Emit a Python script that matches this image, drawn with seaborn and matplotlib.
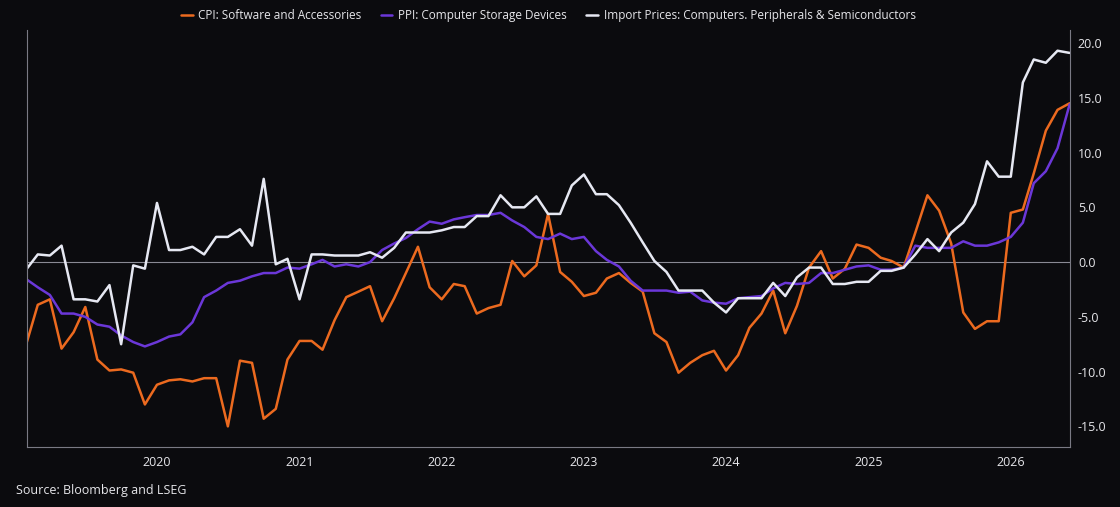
import pandas as pd
import matplotlib.pyplot as plt
import matplotlib.dates as mdates
import seaborn as sns

# Monthly YoY % changes, Feb 2019 - Jun 2026
dates = pd.date_range('2019-02-01', periods=89, freq='MS')

cpi_software = [
    -7.3, -3.9, -3.4, -7.9, -6.4, -4.1, -8.9, -9.9, -9.8, -10.1,
    -13.0, -11.2, -10.8, -10.7, -10.9, -10.6, -10.6, -15.0, -9.0, -9.2,
    -14.3, -13.4, -8.9, -7.2, -7.2, -8.0, -5.3, -3.2, -2.7, -2.2,
    -5.4, -3.3, -1.0, 1.4, -2.3, -3.4, -2.0, -2.2, -4.7, -4.2,
    -3.9, 0.1, -1.3, -0.3, 4.4, -0.9, -1.8, -3.1, -2.8, -1.5,
    -1.0, -1.9, -2.7, -6.5, -7.3, -10.1, -9.2, -8.5, -8.1, -9.9,
    -8.5, -6.0, -4.7, -2.6, -6.5, -4.0, -0.5, 1.0, -1.5, -0.6,
    1.6, 1.3, 0.4, 0.1, -0.5, 2.7, 6.1, 4.7, 1.7, -4.6,
    -6.1, -5.4, -5.4, 4.5, 4.8, 8.1, 12.0, 13.9, 14.5,
]

ppi_storage = [
    -1.6, -2.3, -3.0, -4.7, -4.7, -5.0, -5.7, -5.9, -6.7, -7.3,
    -7.7, -7.3, -6.8, -6.6, -5.5, -3.2, -2.6, -1.9, -1.7, -1.3,
    -1.0, -1.0, -0.5, -0.6, -0.2, 0.2, -0.4, -0.2, -0.4, 0.0,
    1.1, 1.7, 2.2, 3.0, 3.7, 3.5, 3.9, 4.1, 4.3, 4.3,
    4.5, 3.8, 3.2, 2.3, 2.1, 2.6, 2.1, 2.3, 1.0, 0.2,
    -0.4, -1.7, -2.6, -2.6, -2.6, -2.8, -2.7, -3.5, -3.7, -3.8,
    -3.3, -3.2, -3.1, -2.4, -1.9, -2.0, -1.9, -1.0, -1.0, -0.7,
    -0.4, -0.3, -0.7, -0.7, -0.5, 1.5, 1.3, 1.3, 1.3, 1.9,
    1.5, 1.5, 1.8, 2.3, 3.6, 7.2, 8.3, 10.4, 14.4,
]

import_prices = [
    -0.6, 0.7, 0.6, 1.5, -3.4, -3.4, -3.6, -2.1, -7.5, -0.3,
    -0.6, 5.4, 1.1, 1.1, 1.4, 0.7, 2.3, 2.3, 3.0, 1.5,
    7.6, -0.2, 0.3, -3.4, 0.7, 0.7, 0.6, 0.6, 0.6, 0.9,
    0.4, 1.3, 2.7, 2.7, 2.7, 2.9, 3.2, 3.2, 4.2, 4.2,
    6.1, 5.0, 5.0, 6.0, 4.4, 4.4, 7.0, 8.0, 6.2, 6.2,
    5.2, 3.6, 1.8, 0.1, -0.9, -2.6, -2.6, -2.6, -3.7, -4.6,
    -3.3, -3.3, -3.3, -1.9, -3.1, -1.4, -0.5, -0.5, -2.0, -2.0,
    -1.8, -1.8, -0.8, -0.8, -0.5, 0.7, 2.1, 1.0, 2.7, 3.6,
    5.3, 9.2, 7.8, 7.8, 16.4, 18.5, 18.2, 19.3, 19.1,
]

series_names = [
    'CPI: Software and Accessories',
    'PPI: Computer Storage Devices',
    'Import Prices: Computers. Peripherals & Semiconductors',
]
colors = ['#ec6a1f', '#6b37d8', '#e6e8f2']

df = pd.DataFrame({'Date': dates,
                   series_names[0]: cpi_software,
                   series_names[1]: ppi_storage,
                   series_names[2]: import_prices})
long_df = df.melt(id_vars='Date', var_name='Series', value_name='Value')

bg = '#0b0b0e'
sns.set_style('dark')
plt.rcParams['font.family'] = ['Open Sans', 'DejaVu Sans']

fig = plt.figure(figsize=(11.2, 5.07), dpi=100, facecolor=bg)
ax = fig.add_axes([0.024, 0.118, 0.931, 0.823])
ax.set_facecolor(bg)

sns.lineplot(data=long_df, x='Date', y='Value', hue='Series',
             palette=dict(zip(series_names, colors)), linewidth=1.8, ax=ax)

ax.axhline(0, color='#8a8a94', linewidth=0.8, zorder=0)
ax.set_xlim(dates[0], dates[-1])
ax.set_ylim(-16.9, 21.2)
ax.yaxis.tick_right()
ax.set_yticks([-15, -10, -5, 0, 5, 10, 15, 20])
ax.set_yticklabels([f'{v:.1f}' for v in [-15, -10, -5, 0, 5, 10, 15, 20]])
ax.xaxis.set_major_locator(mdates.YearLocator())
ax.xaxis.set_major_formatter(mdates.DateFormatter('%Y'))
ax.tick_params(colors='#e6e6ea', labelsize=9, length=0, pad=6)
ax.set_xlabel('')
ax.set_ylabel('')
ax.grid(False)
for side in ['left', 'right', 'bottom']:
    ax.spines[side].set_visible(True)
    ax.spines[side].set_color('#7a7a84')
    ax.spines[side].set_linewidth(0.8)
ax.spines['top'].set_visible(False)

leg = ax.legend(loc='lower center', bbox_to_anchor=(0.5, 1.0), ncol=3,
                frameon=False, fontsize=8.5, handlelength=1.0, columnspacing=1.6,
                handletextpad=0.5, borderaxespad=0.3)
for t in leg.get_texts():
    t.set_color('#e6e6ea')

fig.text(0.014, 0.025, 'Source: Bloomberg and LSEG', color='#e6e6ea', fontsize=9)

plt.savefig('out.png', facecolor=bg)
